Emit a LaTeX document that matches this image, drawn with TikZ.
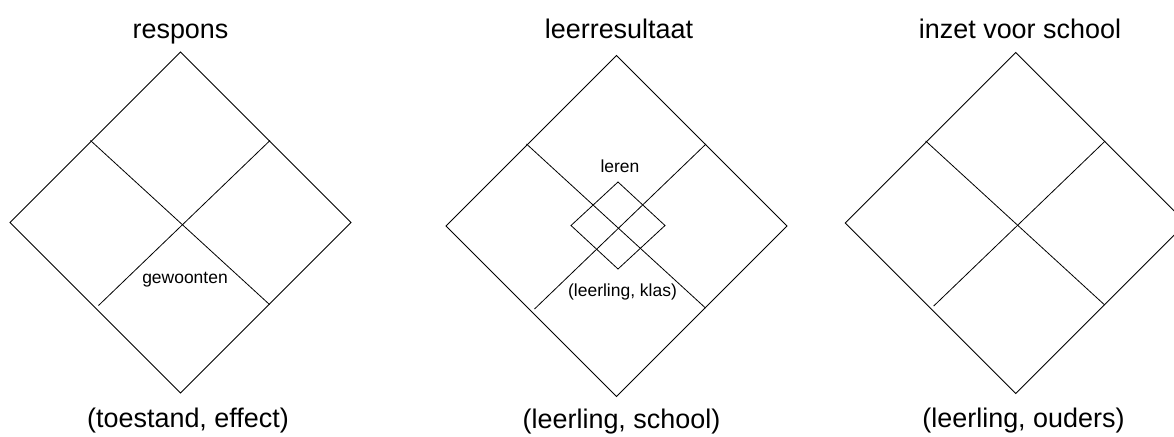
\documentclass[tikz,border=0pt]{standalone}
\usepackage{fontspec}
\setmainfont{Liberation Sans}
\usetikzlibrary{positioning}

\begin{document}
\begin{tikzpicture}[x=0.75pt, y=-0.75pt,
    frame/.style={line width=0.6pt, black},
    title/.style={anchor=base, font=\fontsize{20.2}{24}\selectfont, inner sep=0pt},
    small/.style={anchor=base, font=\fontsize{13.1}{16}\selectfont, inner sep=0pt}]
  \useasboundingbox (0,0) rectangle (1174,436);
  % three diamonds, each cut in four
  \foreach \n/\cx/\cy in {resp/180.5/222.5, leer/616.5/226, inzet/1015.7/223}{
    \begin{scope}[shift={(\cx,\cy)}]
      \coordinate (\n-top) at (0,-170.5);
      \coordinate (\n-right) at (170.5,0);
      \coordinate (\n-bottom) at (0,170.5);
      \coordinate (\n-left) at (-170.5,0);
      \coordinate (\n-ul) at (-90,-82);
      \coordinate (\n-lr) at (89,82);
      \coordinate (\n-ur) at (89.5,-82);
      \coordinate (\n-ll) at (-82,83);
      \draw[frame] (\n-top) -- (\n-right) -- (\n-bottom) -- (\n-left) -- cycle;
      \draw[frame] (\n-ul) -- (\n-lr);
      \draw[frame] (\n-ur) -- (\n-ll);
    \end{scope}
  }
  % small diamond in the middle one
  \coordinate (in-top) at (618,182);
  \coordinate (in-right) at (665,225.5);
  \coordinate (in-bottom) at (618,269);
  \coordinate (in-left) at (571,225.5);
  \draw[frame] (in-top) -- (in-right) -- (in-bottom) -- (in-left) -- cycle;

  \node[title] (respons) at (180.5,38) {respons};
  \node[title] (leerres) at (619,38) {leerresultaat};
  \node[title] (inzet) at (1020,38) {inzet voor school};
  \node[title] (toestand) at (188,427) {(toestand, effect)};
  \node[title] (lschool) at (621.5,428) {(leerling, school)};
  \node[title] (louders) at (1023.5,427) {(leerling, ouders)};
  \node[small] (gewoonten) at (185,283) {gewoonten};
  \node[small] (leren) at (620,172) {leren};
  \node[small] (klas) at (622.5,296) {(leerling, klas)};
\end{tikzpicture}
\end{document}
